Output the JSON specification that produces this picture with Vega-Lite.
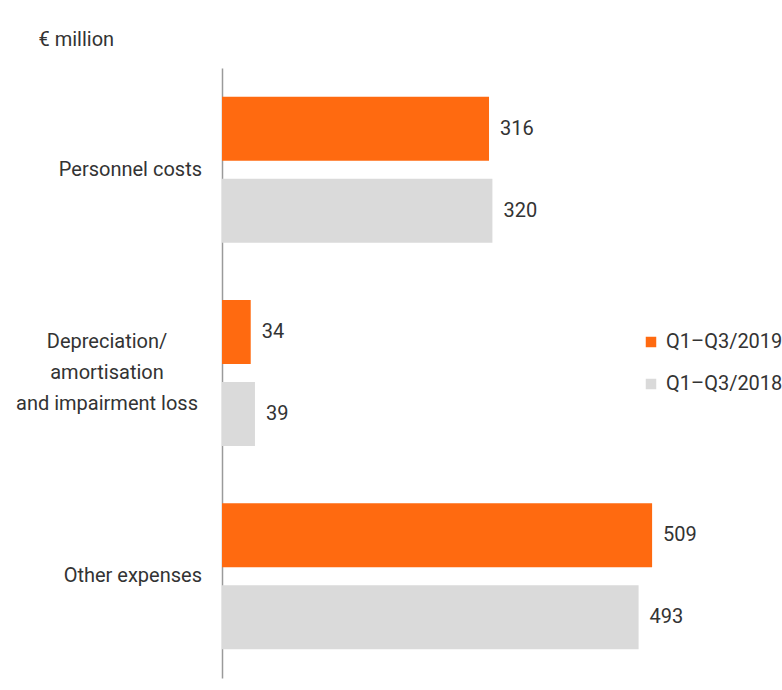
{
  "$schema": "https://vega.github.io/schema/vega-lite/v6.json",
  "autosize": "none",
  "width": 507,
  "height": 610,
  "padding": {"left": 222, "top": 68, "right": 53, "bottom": 12},
  "background": "white",
  "config": {
    "view": {"stroke": null},
    "font": "Roboto",
    "text": {"font": "Roboto"}
  },
  "data": {
    "values": [
      {"category": "Personnel costs", "period": "Q1–Q3/2019", "value": 316},
      {"category": "Personnel costs", "period": "Q1–Q3/2018", "value": 320},
      {"category": "Depreciation/amortisation and impairment loss", "period": "Q1–Q3/2019", "value": 34},
      {"category": "Depreciation/amortisation and impairment loss", "period": "Q1–Q3/2018", "value": 39},
      {"category": "Other expenses", "period": "Q1–Q3/2019", "value": 509},
      {"category": "Other expenses", "period": "Q1–Q3/2018", "value": 493}
    ]
  },
  "encoding": {
    "y": {
      "field": "category",
      "type": "nominal",
      "sort": ["Personnel costs", "Depreciation/amortisation and impairment loss", "Other expenses"],
      "scale": {"paddingInner": 0, "paddingOuter": 0},
      "axis": {
        "title": "€ million",
        "titleAngle": 0,
        "titleX": -184,
        "titleY": -29,
        "titleAlign": "left",
        "titleBaseline": "middle",
        "titleFont": "Roboto",
        "titleFontSize": 20,
        "titleFontWeight": "normal",
        "titleColor": "#333333",
        "ticks": false,
        "tickSize": 0,
        "labels": false,
        "domainColor": "#9a9a9a",
        "domainWidth": 1.5
      }
    },
    "x": {
      "field": "value",
      "type": "quantitative",
      "scale": {"domain": [0, 600], "nice": false},
      "axis": null
    }
  },
  "layer": [
    {
      "mark": {"type": "bar"},
      "encoding": {
        "yOffset": {
          "field": "period",
          "type": "nominal",
          "scale": {"domain": ["Q1–Q3/2019", "Q1–Q3/2018"], "paddingInner": 0.22, "paddingOuter": 0.35}
        },
        "color": {
          "field": "period",
          "type": "nominal",
          "scale": {"domain": ["Q1–Q3/2019", "Q1–Q3/2018"], "range": ["#FF6A10", "#DADADA"]},
          "legend": {
            "title": null,
            "orient": "none",
            "legendX": 419,
            "legendY": 264,
            "symbolType": "square",
            "symbolSize": 110,
            "symbolStrokeWidth": 0,
            "labelFont": "Roboto",
            "labelFontSize": 20,
            "labelColor": "#333333",
            "rowPadding": 22,
            "labelOffset": 5,
            "padding": 0
          }
        }
      }
    },
    {
      "mark": {"type": "text", "align": "left", "baseline": "middle", "dx": 11, "fontSize": 20, "color": "#333333", "font": "Roboto"},
      "encoding": {
        "yOffset": {
          "field": "period",
          "type": "nominal",
          "scale": {"domain": ["Q1–Q3/2019", "Q1–Q3/2018"], "paddingInner": 0.22, "paddingOuter": 0.35}
        },
        "text": {"field": "value", "type": "quantitative"}
      }
    },
    {
      "transform": [
        {"filter": "datum.period == 'Q1–Q3/2019' && datum.category != 'Depreciation/amortisation and impairment loss'"}
      ],
      "mark": {"type": "text", "align": "right", "baseline": "middle", "dx": -20, "fontSize": 20, "color": "#333333", "font": "Roboto"},
      "encoding": {
        "x": {"datum": 0, "type": "quantitative"},
        "text": {"field": "category", "type": "nominal"}
      }
    },
    {
      "transform": [
        {"filter": "datum.period == 'Q1–Q3/2019' && datum.category == 'Depreciation/amortisation and impairment loss'"}
      ],
      "mark": {"type": "text", "align": "center", "baseline": "middle", "dx": -115, "dy": -31, "lineHeight": 31, "fontSize": 20, "color": "#333333", "font": "Roboto"},
      "encoding": {
        "x": {"datum": 0, "type": "quantitative"},
        "text": {"value": ["Depreciation/", "amortisation", "and impairment loss"]}
      }
    }
  ]
}
